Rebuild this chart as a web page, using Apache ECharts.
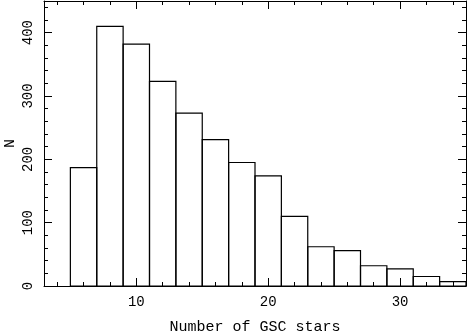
<!DOCTYPE html>
<html>
<head>
<meta charset="utf-8">
<script src="https://cdn.jsdelivr.net/npm/echarts@6/dist/echarts.min.js"></script>
<style>
  html, body { margin: 0; padding: 0; background: #fff; }
  #chart { width: 468px; height: 336px; }
</style>
</head>
<body>
<div id="chart"></div>
<script>
(function() {
  // histogram bins (left edge, width 2) and counts
  var binStarts = [5, 7, 9, 11, 13, 15, 17, 19, 21, 23, 25, 27, 29, 31, 33];
  var binWidth = 2;
  var counts = [187, 410, 382, 323, 273, 231, 195, 174, 110, 62, 56, 32, 27, 15, 7];

  var xMajor = [10, 20, 30];
  var xMinor = [4, 6, 8, 12, 14, 16, 18, 22, 24, 26, 28, 32, 34];
  var yMajor = [0, 100, 200, 300, 400];
  var yMinor = [20, 40, 60, 80, 120, 140, 160, 180, 220, 240, 260, 280, 320, 340, 360, 380, 420, 440];

  var font = 'Liberation Mono';
  var ink = '#000';

  function xAx(pos, ticks, len, labels, line) {
    return {
      type: 'value', position: pos, min: 3, max: 35,
      axisLine: { show: line, onZero: false, lineStyle: { color: ink, width: 1 } },
      axisTick: { show: true, inside: true, length: len, customValues: ticks, lineStyle: { color: ink, width: 1 } },
      axisLabel: labels ? { show: true, customValues: ticks, color: ink, fontFamily: font, fontSize: 14, margin: 9 } : { show: false },
      splitLine: { show: false }
    };
  }
  function yAx(pos, ticks, len, labels, line) {
    return {
      type: 'value', position: pos, min: 0, max: 450,
      axisLine: { show: line, onZero: false, lineStyle: { color: ink, width: 1 } },
      axisTick: { show: true, inside: true, length: len, customValues: ticks, lineStyle: { color: ink, width: 1 } },
      axisLabel: labels ? { show: true, customValues: ticks, rotate: 90, color: ink, fontFamily: font, fontSize: 14, margin: 9 } : { show: false },
      splitLine: { show: false }
    };
  }

  var xAxes = [
    xAx('bottom', xMajor, 8, true, true),
    xAx('bottom', xMinor, 4, false, false),
    xAx('top', xMajor, 8, false, true),
    xAx('top', xMinor, 4, false, false)
  ];
  xAxes[0].name = 'Number of GSC stars';
  xAxes[0].nameLocation = 'middle';
  xAxes[0].nameGap = 34;
  xAxes[0].nameTextStyle = { color: ink, fontFamily: font, fontSize: 15 };

  var yAxes = [
    yAx('left', yMajor, 8, true, true),
    yAx('left', yMinor, 4, false, false),
    yAx('right', yMajor, 8, false, true),
    yAx('right', yMinor, 4, false, false)
  ];
  // y title sits on the label-less minor-tick axis so it is not pushed out by the tick labels
  yAxes[1].name = 'N';
  yAxes[1].nameLocation = 'middle';
  yAxes[1].nameRotate = 90;
  yAxes[1].nameGap = 26;
  yAxes[1].nameTextStyle = { color: ink, fontFamily: font, fontSize: 15 };

  var data = binStarts.map(function(s, i) { return [s, s + binWidth, counts[i]]; });

  var chart = echarts.init(document.getElementById('chart'), null, { renderer: 'canvas' });
  chart.setOption({
    animation: false,
    backgroundColor: '#fff',
    grid: { left: 44, right: 2, top: 1, bottom: 50, containLabel: false, outerBoundsMode: 'none' },
    xAxis: xAxes,
    yAxis: yAxes,
    series: [{
      type: 'custom',
      xAxisIndex: 0,
      yAxisIndex: 0,
      data: data,
      encode: { x: [0, 1], y: 2 },
      renderItem: function(params, api) {
        var p0 = api.coord([api.value(0), api.value(2)]);
        var p1 = api.coord([api.value(1), 0]);
        return {
          type: 'rect',
          shape: { x: p0[0], y: p0[1], width: p1[0] - p0[0], height: p1[1] - p0[1] },
          style: { fill: 'none', stroke: ink, lineWidth: 1.2 }
        };
      }
    }]
  });
  window.addEventListener('resize', function() { chart.resize(); });
})();
</script>
</body>
</html>
